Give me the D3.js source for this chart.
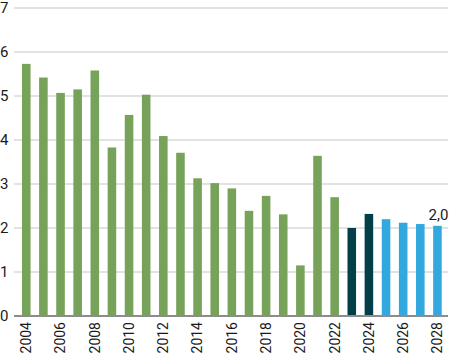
<!DOCTYPE html>
<html lang="en">
<head>
<meta charset="utf-8">
<script src="https://d3js.org/d3.v7.min.js"></script>
<style>
  body { margin: 0; background: #fff; }
  svg { display: block; }
  text { font-family: Roboto, "Liberation Sans", sans-serif; fill: #1a1a1a; }
</style>
</head>
<body>
<svg width="449" height="354"></svg>
<script>
// years and values
const years = d3.range(2004, 2029).map(String);
const values = [5.73, 5.42, 5.07, 5.15, 5.58, 3.83, 4.57, 5.03, 4.09, 3.71,
                3.13, 3.02, 2.90, 2.39, 2.73, 2.31, 1.15, 3.64, 2.70, 2.00,
                2.32, 2.20, 2.12, 2.09, 2.05];
// kind of each bar: history, recent, forecast
const kinds = years.map(y => +y <= 2022 ? "hist" : (+y <= 2024 ? "recent" : "fcst"));
const yTicks = [0, 1, 2, 3, 4, 5, 6, 7];
const xTickYears = years.filter(y => +y % 2 === 0);

const colors = { hist: "#77a25a", recent: "#033f48", fcst: "#31a9df" };

const svg = d3.select("svg");
const x = d3.scaleBand().domain(years).range([17.7, 446]).paddingInner(0.5).paddingOuter(0.25);
const y = d3.scaleLinear().domain([0, 7]).range([316, 8]);

// gridlines
svg.append("g").selectAll("line").data(yTicks.filter(d => d > 0)).join("line")
  .attr("x1", 14).attr("x2", 448)
  .attr("y1", d => y(d)).attr("y2", d => y(d))
  .attr("stroke", "#c6c6c6").attr("stroke-width", 1.2);

// y labels
svg.append("g").selectAll("text").data(yTicks).join("text")
  .attr("x", 0).attr("y", d => y(d)).attr("dy", "0.35em")
  .style("font-size", "15px")
  .text(d => d);

// bars
svg.append("g").selectAll("rect").data(years).join("rect")
  .attr("x", d => x(d)).attr("width", x.bandwidth())
  .attr("y", (d, i) => y(values[i]))
  .attr("height", (d, i) => y(0) - y(values[i]))
  .attr("fill", (d, i) => colors[kinds[i]]);

// axis line
svg.append("line").attr("x1", 14).attr("x2", 448)
  .attr("y1", y(0)).attr("y2", y(0))
  .attr("stroke", "#8c8c8c").attr("stroke-width", 2);

// x labels, rotated
svg.append("g").selectAll("text").data(xTickYears).join("text")
  .attr("transform", d => `translate(${x(d) + x.bandwidth() / 2},322) rotate(-90)`)
  .attr("text-anchor", "end").attr("dy", "0.35em")
  .style("font-size", "14px")
  .text(d => d);

// value label on last bar
const last = years.length - 1;
svg.append("text")
  .attr("x", x(years[last]) + x.bandwidth() / 2 + 1)
  .attr("y", y(values[last]) - 6)
  .attr("text-anchor", "middle")
  .style("font-size", "15px")
  .text("2,0");
</script>
</body>
</html>
